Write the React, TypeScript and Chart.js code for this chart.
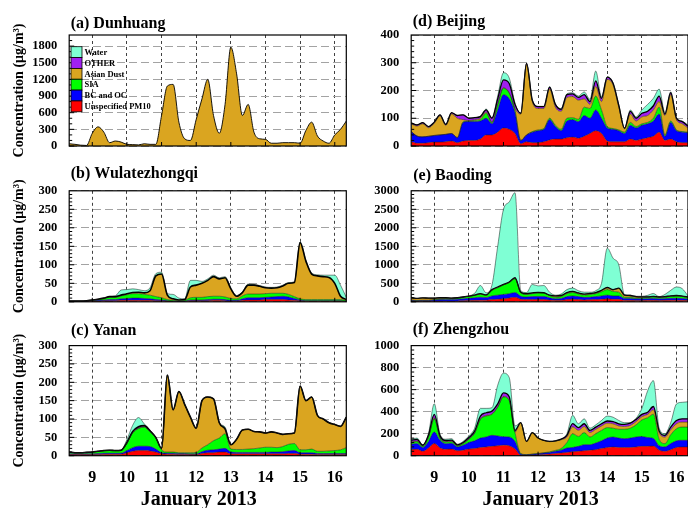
import React, { useEffect, useRef } from "react";
import { Chart, registerables } from "chart.js";

Chart.register(...registerables);

const FONT = '"Liberation Serif", "Times New Roman", serif';

// hours since 00:00 Jan 8, 2013 (4-hourly)
const HOURS = [8, 12, 16, 20, 24, 28, 32, 36, 40, 44, 48, 52, 56, 60, 64, 68, 72, 76, 80, 84, 88, 92, 96, 100, 104, 108, 112, 116, 120, 124, 128, 132, 136, 140, 144, 148, 152, 156, 160, 164, 168, 172, 176, 180, 184, 188, 192, 196, 200];
const DAY_TICKS = [9, 10, 11, 12, 13, 14, 15, 16];

const LAYER_NAMES = ["Unspecified PM10", "BC and OC", "SIA", "Asian Dust", "OTHER", "Water"];
const LAYER_COLORS = ["#ff0000", "#0000ff", "#00ff00", "#daa520", "#a020f0", "#7fffd4"];

// (a) Dunhuang
const DUNHUANG_DUST = [40, 30, 15, 10, 230, 345, 250, 60, 90, 70, 30, 25, 20, 40, 30, 30, 550, 1080, 1110, 430, 130, 100, 480, 850, 1200, 550, 230, 750, 1780, 1300, 550, 750, 250, 130, 120, 50, 50, 60, 60, 60, 50, 280, 430, 180, 90, 50, 200, 300, 450];

// (b) Wulatezhongqi
const WULATE_PM = [1, 1, 1, 1, 2, 2, 3, 3, 3, 4, 4, 4, 4, 4, 4, 3, 3, 2, 1, 1, 1, 3, 3, 3, 3, 4, 4, 3, 2, 2, 4, 5, 5, 5, 6, 6, 6, 6, 5, 4, 3, 2, 2, 2, 2, 2, 2, 2, 1];
const WULATE_BC = [0.5, 0.5, 0.5, 1, 1, 2, 2, 3, 3, 4, 5, 6, 6, 5, 4, 3, 2, 1, 1, 1, 1, 2, 2, 2, 3, 3, 3, 3, 2, 2, 4, 6, 6, 6, 6, 7, 8, 9, 8, 5, 2, 1, 1, 1, 1, 1, 1, 1, 1];
const WULATE_SIA = [0.5, 0.5, 0.5, 1, 2, 3, 4, 6, 6, 8, 10, 12, 12, 11, 10, 8, 6, 3, 2, 1, 2, 6, 7, 7, 8, 8, 8, 7, 5, 4, 8, 10, 10, 10, 10, 10, 9, 8, 7, 5, 3, 3, 3, 3, 3, 3, 3, 3, 2];
const WULATE_DUST = [0, 0, 0, 0, 0, 0, 1, 2, 2, 2, 3, 3, 4, 4, 12, 56, 64, 12, 4, 2, 2, 29, 33, 38, 44, 53, 47, 52, 26, 7, 9, 24, 24, 21, 16, 14, 15, 20, 30, 38, 152, 104, 69, 64, 62, 60, 44, 9, 2];
const WULATE_WATER = [0, 0, 0, 0, 0, 0, 0, 0, 2, 14, 11, 10, 7, 6, 8, 6, 5, 4, 12, 5, 2, 18, 13, 5, 4, 4, 3, 3, 3, 2, 2, 3, 2, 2, 2, 2, 2, 2, 2, 2, 2, 3, 3, 3, 4, 6, 22, 30, 6];

// (c) Yanan
const YANAN_PM = [3, 3, 3, 3, 3, 3, 4, 4, 4, 4, 8, 12, 14, 14, 13, 10, 5, 4, 4, 3, 3, 3, 3, 6, 8, 8, 10, 10, 5, 5, 5, 5, 5, 5, 5, 5, 5, 5, 6, 6, 4, 4, 4, 3, 3, 3, 3, 3, 3];
const YANAN_BC = [2, 2, 2, 2, 2, 3, 3, 3, 3, 3, 6, 10, 12, 12, 12, 8, 3, 3, 3, 3, 3, 2, 2, 5, 7, 8, 8, 10, 5, 4, 4, 4, 4, 4, 4, 5, 5, 6, 7, 8, 4, 4, 4, 3, 3, 3, 3, 3, 3];
const YANAN_SIA = [4, 3, 3, 4, 5, 6, 6, 7, 6, 7, 20, 40, 48, 52, 40, 30, 8, 3, 3, 2, 2, 3, 4, 10, 15, 25, 30, 40, 8, 8, 8, 9, 10, 12, 14, 13, 12, 14, 18, 19, 8, 8, 10, 6, 6, 7, 8, 10, 16];
const YANAN_DUST = [1, 0, 0, 0, 0, 0, 1, 1, 1, 1, 1, 1, 1, 1, 1, 2, 4, 210, 115, 167, 132, 97, 66, 129, 130, 114, 42, 13, 12, 28, 53, 54, 47, 44, 39, 42, 40, 33, 29, 29, 174, 134, 142, 98, 88, 77, 71, 64, 83];
const YANAN_OTHER = [0, 0, 0, 0, 0, 0, 0, 0, 0, 0, 1, 3, 4, 3, 2, 0, 0, 0, 0, 0, 0, 0, 0, 0, 0, 0, 0, 0, 0, 0, 0, 0, 0, 0, 0, 0, 0, 0, 0, 0, 0, 0, 0, 0, 0, 0, 0, 0, 0];
const YANAN_WATER = [0, 0, 0, 0, 0, 0, 0, 0, 0, 0, 8, 17, 25, 5, 2, 0, 0, 0, 0, 0, 0, 0, 0, 0, 0, 0, 0, 5, 0, 0, 0, 0, 0, 0, 0, 0, 0, 0, 0, 0, 0, 0, 0, 0, 0, 0, 0, 0, 0];

// (d) Beijing
const BEIJING_PM = [16, 10, 10, 12, 14, 14, 15, 18, 12, 18, 20, 20, 25, 40, 40, 50, 65, 60, 45, 8, 15, 12, 12, 15, 22, 25, 25, 30, 32, 28, 35, 45, 55, 45, 18, 15, 15, 15, 25, 20, 25, 30, 35, 50, 20, 25, 15, 12, 12];
const BEIJING_BC = [36, 26, 23, 23, 24, 26, 27, 27, 18, 67, 68, 68, 65, 60, 40, 80, 120, 110, 75, 12, 25, 38, 43, 45, 73, 45, 30, 60, 63, 60, 75, 55, 75, 55, 47, 45, 40, 30, 50, 45, 50, 50, 55, 65, 15, 60, 40, 38, 36];
const BEIJING_SIA = [0, 0, 0, 0, 0, 0, 0, 0, 0, 2, 2, 4, 5, 18, 4, 20, 23, 20, 10, 0, 0, 2, 3, 3, 5, 5, 5, 10, 7, 8, 30, 35, 50, 30, 5, 3, 3, 5, 10, 5, 5, 5, 10, 25, 5, 5, 3, 2, 2];
const BEIJING_DUST = [28, 36, 47, 31, 44, 68, 32, 71, 70, 8, 2, 3, 5, 4, 2, 2, 2, 2, 5, 95, 255, 108, 77, 72, 105, 65, 65, 75, 76, 69, 30, 15, 35, 30, 170, 157, 82, 12, 30, 20, 25, 25, 30, 20, 70, 95, 37, 28, 15];
const BEIJING_OTHER = [3, 4, 4, 4, 4, 4, 4, 4, 10, 17, 8, 7, 6, 8, 14, 18, 28, 33, 15, 3, 3, 5, 7, 7, 7, 10, 7, 10, 10, 10, 15, 10, 20, 12, 8, 6, 6, 2, 10, 10, 13, 15, 15, 20, 5, 7, 5, 8, 7];
const BEIJING_WATER = [0, 0, 0, 0, 0, 0, 0, 0, 0, 1, 1, 1, 2, 3, 2, 10, 26, 20, 5, 0, 0, 1, 1, 1, 2, 2, 3, 3, 4, 5, 10, 8, 35, 6, 2, 2, 2, 0, 5, 5, 12, 25, 27, 25, 5, 3, 3, 2, 3];

// (e) Baoding
const BAODING_PM = [20, 15, 15, 15, 20, 25, 25, 20, 25, 30, 35, 40, 45, 45, 60, 70, 80, 100, 120, 70, 60, 60, 65, 65, 50, 40, 40, 60, 70, 60, 50, 55, 60, 70, 80, 70, 70, 40, 40, 35, 35, 40, 40, 35, 40, 45, 45, 40, 35];
const BAODING_BC = [20, 15, 20, 20, 30, 35, 40, 40, 45, 50, 60, 70, 80, 70, 100, 110, 120, 120, 130, 80, 70, 80, 80, 80, 60, 40, 50, 80, 90, 80, 70, 70, 80, 90, 100, 90, 90, 50, 50, 45, 45, 45, 50, 45, 45, 50, 50, 50, 40];
const BAODING_SIA = [10, 10, 10, 10, 15, 20, 25, 25, 30, 40, 50, 60, 80, 60, 150, 200, 260, 300, 380, 100, 70, 80, 90, 90, 60, 40, 50, 80, 90, 70, 60, 70, 80, 110, 150, 120, 100, 30, 30, 25, 30, 35, 40, 35, 40, 50, 60, 50, 40];
const BAODING_DUST = [70, 50, 60, 55, 35, 30, 20, 15, 10, 10, 10, 10, 10, 10, 10, 10, 0, 0, 0, 0, 10, 10, 10, 0, 0, 30, 20, 20, 20, 20, 20, 20, 20, 30, 40, 40, 100, 50, 40, 30, 20, 10, 10, 10, 10, 10, 10, 10, 10];
const BAODING_OTHER = [0, 0, 0, 0, 0, 0, 0, 0, 0, 0, 0, 0, 5, 0, 10, 10, 10, 15, 20, 10, 10, 10, 10, 10, 10, 10, 10, 10, 10, 10, 10, 10, 10, 10, 20, 10, 10, 10, 10, 5, 5, 5, 5, 5, 5, 5, 5, 5, 5];
const BAODING_WATER = [0, 0, 0, 0, 0, 0, 0, 0, 0, 0, 5, 50, 220, 60, 120, 1100, 2030, 2165, 2300, 40, 30, 230, 175, 195, 80, 20, 40, 80, 90, 60, 50, 35, 50, 190, 1060, 850, 630, 10, 10, 10, 15, 40, 80, 10, 60, 150, 230, 200, 30];

// (f) Zhengzhou
const ZHENGZHOU_PM = [55, 58, 40, 70, 110, 70, 58, 60, 45, 50, 60, 65, 75, 80, 85, 90, 96, 90, 60, 5, 3, 5, 8, 12, 15, 20, 25, 30, 36, 40, 45, 50, 55, 65, 75, 80, 75, 75, 75, 80, 85, 85, 87, 50, 40, 55, 75, 80, 80];
const ZHENGZHOU_BC = [50, 52, 35, 60, 105, 70, 50, 52, 35, 45, 60, 70, 85, 90, 100, 90, 76, 80, 70, 10, 5, 8, 10, 12, 15, 20, 25, 40, 39, 45, 55, 50, 60, 70, 85, 90, 85, 80, 85, 90, 90, 80, 70, 40, 40, 55, 60, 60, 60];
const ZHENGZHOU_SIA = [15, 18, 10, 40, 120, 22, 15, 15, 10, 15, 30, 70, 170, 190, 190, 260, 361, 330, 80, 5, 2, 2, 2, 3, 5, 8, 15, 50, 125, 90, 110, 70, 85, 95, 95, 80, 80, 85, 90, 110, 150, 180, 220, 60, 30, 80, 110, 120, 120];
const ZHENGZHOU_DUST = [5, 5, 3, 3, 8, 3, 5, 5, 2, 2, 2, 3, 5, 5, 5, 5, 5, 5, 5, 280, 120, 195, 140, 113, 92, 85, 80, 50, 62, 55, 55, 40, 40, 40, 40, 40, 30, 25, 25, 30, 30, 30, 40, 60, 60, 45, 45, 45, 45];
const ZHENGZHOU_OTHER = [15, 15, 7, 15, 32, 15, 10, 10, 6, 8, 13, 15, 25, 25, 25, 25, 32, 30, 15, 0, 0, 0, 0, 0, 3, 2, 5, 15, 30, 25, 25, 20, 20, 20, 20, 20, 20, 20, 20, 20, 20, 20, 30, 15, 15, 25, 30, 30, 30];
const ZHENGZHOU_WATER = [10, 12, 5, 15, 97, 15, 12, 13, 7, 10, 15, 27, 70, 40, 30, 170, 180, 175, 40, 0, 0, 0, 0, 0, 0, 0, 0, 15, 75, 35, 45, 20, 20, 30, 45, 40, 30, 15, 5, 10, 55, 195, 235, 25, 15, 40, 150, 150, 155];

// y tick labels
const TICKS_A = [0, 300, 600, 900, 1200, 1500, 1800];
const TICKS_B = [0, 50, 100, 150, 200, 250, 300];
const TICKS_D = [0, 100, 200, 300, 400];
const TICKS_E = [0, 500, 1000, 1500, 2000, 2500, 3000];
const TICKS_F = [0, 200, 400, 600, 800, 1000];

type Layer = { k: number; values: number[] };
type PanelDef = { title: string; yMax: number; yTicks: number[]; minor: number; thick: number; thickW: number; layers: Layer[] };

const PANELS: PanelDef[] = [
  { title: "(a) Dunhuang", yMax: 2000, yTicks: TICKS_A, minor: 100, thick: 3, thickW: 0.9,
    layers: [{ k: 3, values: DUNHUANG_DUST }] },
  { title: "(b) Wulatezhongqi", yMax: 300, yTicks: TICKS_B, minor: 10, thick: 3, thickW: 1.6,
    layers: [{ k: 0, values: WULATE_PM }, { k: 1, values: WULATE_BC }, { k: 2, values: WULATE_SIA }, { k: 3, values: WULATE_DUST }, { k: 5, values: WULATE_WATER }] },
  { title: "(c) Yanan", yMax: 300, yTicks: TICKS_B, minor: 10, thick: 4, thickW: 1.6,
    layers: [{ k: 0, values: YANAN_PM }, { k: 1, values: YANAN_BC }, { k: 2, values: YANAN_SIA }, { k: 3, values: YANAN_DUST }, { k: 4, values: YANAN_OTHER }, { k: 5, values: YANAN_WATER }] },
  { title: "(d) Beijing", yMax: 400, yTicks: TICKS_D, minor: 20, thick: 4, thickW: 1.3,
    layers: [{ k: 0, values: BEIJING_PM }, { k: 1, values: BEIJING_BC }, { k: 2, values: BEIJING_SIA }, { k: 3, values: BEIJING_DUST }, { k: 4, values: BEIJING_OTHER }, { k: 5, values: BEIJING_WATER }] },
  { title: "(e) Baoding", yMax: 3000, yTicks: TICKS_E, minor: 100, thick: 4, thickW: 1.3,
    layers: [{ k: 0, values: BAODING_PM }, { k: 1, values: BAODING_BC }, { k: 2, values: BAODING_SIA }, { k: 3, values: BAODING_DUST }, { k: 4, values: BAODING_OTHER }, { k: 5, values: BAODING_WATER }] },
  { title: "(f) Zhengzhou", yMax: 1000, yTicks: TICKS_F, minor: 40, thick: 4, thickW: 1.3,
    layers: [{ k: 0, values: ZHENGZHOU_PM }, { k: 1, values: ZHENGZHOU_BC }, { k: 2, values: ZHENGZHOU_SIA }, { k: 3, values: ZHENGZHOU_DUST }, { k: 4, values: ZHENGZHOU_OTHER }, { k: 5, values: ZHENGZHOU_WATER }] },
];

type Frame = { left: number; top: number; width: number; height: number; padTop: number; padRight: number; yWidth: number; xHeight: number; yTitle: boolean; xLabels: boolean; legend: boolean; titleDx: number; titleBase: number };

const FRAMES: Frame[] = [
  { left: 0, top: 0, width: 350, height: 165, padTop: 35, padRight: 3.7, yWidth: 69.2, xHeight: 19, yTitle: true, xLabels: false, legend: true, titleDx: 1.5, titleBase: 6.7 },
  { left: 0, top: 155, width: 350, height: 165, padTop: 35.8, padRight: 3.7, yWidth: 69.2, xHeight: 18.2, yTitle: true, xLabels: false, legend: false, titleDx: 1.5, titleBase: 12.5 },
  { left: 0, top: 310, width: 350, height: 198, padTop: 35.6, padRight: 3.7, yWidth: 69.2, xHeight: 52.3, yTitle: true, xLabels: true, legend: false, titleDx: 1.8, titleBase: 10.6 },
  { left: 350, top: 0, width: 338, height: 165, padTop: 35, padRight: 0, yWidth: 61.2, xHeight: 19, yTitle: false, xLabels: false, legend: false, titleDx: 1.5, titleBase: 9.5 },
  { left: 350, top: 155, width: 338, height: 165, padTop: 35.8, padRight: 0, yWidth: 61.2, xHeight: 18.2, yTitle: false, xLabels: false, legend: false, titleDx: 2, titleBase: 11 },
  { left: 350, top: 310, width: 338, height: 198, padTop: 35.6, padRight: 0, yWidth: 61.2, xHeight: 52.3, yTitle: false, xLabels: true, legend: false, titleDx: 1.5, titleBase: 11.3 },
];

const decoPlugin = {
  id: "deco",
  afterDraw(chart: any, _args: any, opts: any) {
    const { ctx, chartArea: ca } = chart;
    const xs = chart.scales.x;
    const ys = chart.scales.y;
    ctx.save();
    ctx.setLineDash([]);
    ctx.strokeStyle = "#000";
    ctx.lineWidth = 1;
    ctx.beginPath();
    for (let v = 0; v < ys.max; v += opts.minor) {
      const py = ys.getPixelForValue(v);
      const len = opts.yTicks.includes(v) ? 5 : 3;
      ctx.moveTo(ca.left, py);
      ctx.lineTo(ca.left + len, py);
    }
    for (const d of DAY_TICKS) {
      const px = xs.getPixelForValue(d);
      ctx.moveTo(px, ca.bottom);
      ctx.lineTo(px, ca.bottom - 4);
    }
    ctx.stroke();
    ctx.lineWidth = 1.2;
    ctx.strokeRect(ca.left, ca.top, ca.right - ca.left, ca.bottom - ca.top);

    ctx.fillStyle = "#000";
    ctx.textAlign = "left";
    ctx.textBaseline = "alphabetic";
    ctx.font = `bold 16px ${FONT}`;
    ctx.fillText(opts.title, ca.left + opts.titleDx, ca.top - opts.titleBase);

    if (opts.xTitle) {
      ctx.font = `bold 20px ${FONT}`;
      ctx.textAlign = "center";
      ctx.fillText(opts.xTitle, (ca.left + ca.right) / 2 - 9, ca.bottom + 49.5);
    }

    if (opts.legend) {
      const bx = ca.left + 1.8;
      const bw = 11;
      const bh = 10.85;
      let by = ca.top + 11.7;
      ctx.font = `bold 8.5px ${FONT}`;
      ctx.textAlign = "left";
      ctx.textBaseline = "middle";
      ctx.lineWidth = 0.8;
      for (let k = LAYER_NAMES.length - 1; k >= 0; k--) {
        ctx.fillStyle = LAYER_COLORS[k];
        ctx.fillRect(bx, by, bw, bh);
        ctx.strokeRect(bx, by, bw, bh);
        ctx.fillStyle = "#000";
        ctx.fillText(LAYER_NAMES[k], bx + bw + 2.5, by + bh / 2 + 0.5);
        by += bh;
      }
    }
    ctx.restore();
  },
};

function buildConfig(p: PanelDef, f: Frame): any {
  return {
    type: "line",
    data: {
      datasets: p.layers.map((L, j) => ({
        label: LAYER_NAMES[L.k],
        data: HOURS.map((h, i) => ({ x: 8 + h / 24, y: L.values[i] })),
        backgroundColor: LAYER_COLORS[L.k],
        borderColor: L.k === p.thick ? "#000" : "#1a1a1a",
        borderWidth: L.k === p.thick ? p.thickW : 0.5,
        fill: j === 0 ? "origin" : "-1",
        pointRadius: 0,
        pointHoverRadius: 0,
        cubicInterpolationMode: "monotone",
      })),
    },
    options: {
      responsive: false,
      maintainAspectRatio: false,
      animation: false,
      events: [],
      layout: { autoPadding: false, padding: { top: f.padTop, right: f.padRight, bottom: 0, left: 0 } },
      scales: {
        x: {
          type: "linear",
          min: 8 + 8 / 24,
          max: 8 + 200 / 24,
          afterBuildTicks: (s: any) => { s.ticks = DAY_TICKS.map((v) => ({ value: v })); },
          afterFit: (s: any) => { s.height = f.xHeight; },
          ticks: {
            display: f.xLabels,
            autoSkip: false,
            maxRotation: 0,
            padding: 0,
            color: "#000",
            font: { family: FONT, size: 16, weight: "bold", lineHeight: 1.2 },
            callback: (v: any) => String(v),
          },
          grid: { color: "#111", lineWidth: 0.8, drawTicks: true, tickLength: 13, tickColor: "rgba(0,0,0,0)" },
          border: { display: false, dash: [3, 3] },
        },
        y: {
          stacked: true,
          min: 0,
          max: p.yMax,
          afterBuildTicks: (s: any) => { s.ticks = p.yTicks.map((v) => ({ value: v })); },
          afterFit: (s: any) => { s.width = f.yWidth; },
          ticks: {
            autoSkip: false,
            padding: 0,
            color: "#000",
            font: { family: FONT, size: 12.5, weight: "bold" },
            callback: (v: any) => String(v),
          },
          grid: { color: "#a3a3a3", lineWidth: 1, drawTicks: true, tickLength: 12, tickColor: "rgba(0,0,0,0)" },
          border: { display: false, dash: [8, 4] },
          title: {
            display: f.yTitle,
            text: "Concentration (μg/m³)",
            color: "#000",
            font: { family: FONT, size: 14, weight: "bold" },
            padding: { top: 11, bottom: 0 },
          },
        },
      },
      plugins: {
        legend: { display: false },
        tooltip: { enabled: false },
        filler: { drawTime: "beforeDatasetsDraw" },
        deco: {
          title: p.title,
          titleDx: f.titleDx,
          titleBase: f.titleBase,
          minor: p.minor,
          yTicks: p.yTicks,
          legend: f.legend,
          xTitle: f.xLabels ? "January 2013" : "",
        },
      },
    },
    plugins: [decoPlugin],
  };
}

function PanelChart({ p, f }: { p: PanelDef; f: Frame }) {
  const ref = useRef<HTMLCanvasElement>(null);
  useEffect(() => {
    const chart = new Chart(ref.current as HTMLCanvasElement, buildConfig(p, f));
    return () => chart.destroy();
  }, []);
  return (
    <canvas
      ref={ref}
      width={f.width}
      height={f.height}
      style={{ position: "absolute", left: f.left, top: f.top, width: f.width, height: f.height }}
    />
  );
}

export default function App() {
  return (
    <div style={{ position: "absolute", left: 0, top: 0, width: 688, height: 508, overflow: "hidden", background: "#fff" }}>
      {PANELS.map((p, i) => (
        <PanelChart key={i} p={p} f={FRAMES[i]} />
      ))}
    </div>
  );
}
